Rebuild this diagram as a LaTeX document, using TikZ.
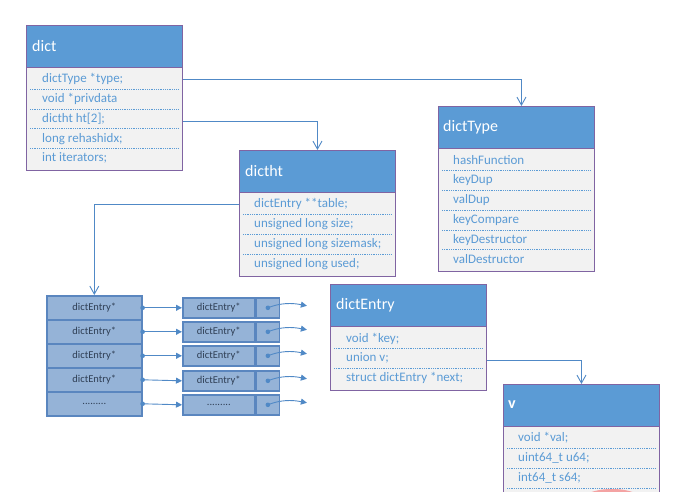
\documentclass[tikz,border=0pt]{standalone}
\usepackage{fontspec}
\setmainfont{Carlito}
\usetikzlibrary{arrows.meta,shapes.geometric}
\definecolor{hdr}{HTML}{5B9BD5}
\definecolor{brd}{HTML}{8064A2}
\definecolor{bodyfill}{HTML}{F2F2F2}
\definecolor{fieldtxt}{HTML}{5B9BD5}
\definecolor{connc}{HTML}{5089C6}
\definecolor{cellfill}{HTML}{95B3D7}
\definecolor{cellbrd}{HTML}{5A86BF}
\definecolor{celltxt}{HTML}{2F3F55}
\definecolor{pinkc}{HTML}{F4A3A3}
\newcommand\mydotrow{.........}
\begin{document}
\begin{tikzpicture}[x=1pt,y=-1pt,
  structbody/.style={draw=brd, line width=0.9pt, fill=bodyfill, anchor=north west, inner sep=0pt, minimum width=156},
  hdrbox/.style={draw=brd, line width=0.9pt, fill=hdr, anchor=north west, inner sep=0pt, minimum width=156, minimum height=42},
  title/.style={anchor=west, text=white, font=\fontsize{16}{18}\selectfont, inner sep=0pt},
  field/.style={anchor=west, text=fieldtxt, font=\fontsize{13}{15}\selectfont, inner sep=0pt},
  sepline/.style={draw=fieldtxt, dash pattern=on 0.9pt off 0.9pt, line width=0.7pt},
  conn/.style={draw=connc, line width=0.9pt, -{Straight Barb[length=8pt,width=9pt]}},
  ptr/.style={draw=connc, line width=0.9pt, -{Triangle[length=6pt,width=6pt]}},
  cell/.style={draw=cellbrd, line width=1.6pt, fill=cellfill, anchor=north west, inner sep=0pt, text=celltxt, font=\fontsize{10.5}{12}\selectfont},
  ]
\useasboundingbox (0,0) rectangle (685,492);
\begin{scope}
\clip (0,0) rectangle (685,492);

% ---------- dict ----------
\node[structbody, minimum height=145] (dict) at (26,25) {};
\node[hdrbox] (dicth) at (26,25) {};
\node[title] (dictt) at (32,46) {dict};
\node[field] (dict1) at (42,79) {dictType *type;};
\node[field] (dict2) at (42,99) {void *privdata};
\node[field] (dict3) at (42,119) {dictht ht[2];};
\node[field] (dict4) at (42,139) {long rehashidx;};
\node[field] (dict5) at (42,158) {int iterators;};
\foreach \y in {89,109,128,148} \draw[sepline] (30,\y) -- (178,\y);

% ---------- dictType ----------
\node[structbody, minimum height=165] (dictType) at (438,106) {};
\node[hdrbox] (dictTypeh) at (438,106) {};
\node[title] (dictTypet) at (443,127) {dictType};
\node[field] (dt1) at (453,160) {hashFunction};
\node[field] (dt2) at (453,180) {keyDup};
\node[field] (dt3) at (453,200) {valDup};
\node[field] (dt4) at (453,220) {keyCompare};
\node[field] (dt5) at (453,240) {keyDestructor};
\node[field] (dt6) at (453,259) {valDestructor};
\foreach \y in {170,190,210,230,249} \draw[sepline] (442,\y) -- (590,\y);

% ---------- dictht ----------
\node[structbody, minimum height=126] (dictht) at (239,150) {};
\node[hdrbox] (dicthth) at (239,150) {};
\node[title] (dicthtt) at (245,171) {dictht};
\node[field] (ht1) at (254,204) {dictEntry **table;};
\node[field] (ht2) at (254,224) {unsigned long size;};
\node[field] (ht3) at (254,244) {unsigned long sizemask;};
\node[field] (ht4) at (254,264) {unsigned long used;};
\foreach \y in {214,234,254} \draw[sepline] (243,\y) -- (392,\y);

% ---------- dictEntry ----------
\node[structbody, minimum height=106] (dictEntry) at (330,284) {};
\node[hdrbox] (dictEntryh) at (330,284) {};
\node[title] (dictEntryt) at (336,305) {dictEntry};
\node[field] (de1) at (346,339) {void *key;};
\node[field] (de2) at (346,358) {union v;};
\node[field] (de3) at (346,378) {struct dictEntry *next;};
\foreach \y in {348,368} \draw[sepline] (334,\y) -- (482,\y);

% ---------- v ----------
\node[structbody, minimum height=130] (v) at (503,384) {};
\node[hdrbox] (vh) at (503,384) {};
\node[title, font=\fontsize{16}{18}\selectfont\bfseries] (vt) at (508,405) {v};
\node[field] (v1) at (518,438) {void *val;};
\node[field] (v2) at (518,458) {uint64\_t u64;};
\node[field] (v3) at (518,478) {int64\_t s64;};
\foreach \y in {448,468,488} \draw[sepline] (507,\y) -- (655,\y);
\node[fill=pinkc, ellipse, minimum width=60, minimum height=22, inner sep=0pt] (mark) at (612,500) {};

% ---------- bucket array ----------
\node[cell, minimum width=95, minimum height=24] (a1) at (46,295) {dictEntry*};
\node[cell, minimum width=95, minimum height=24] (a2) at (46,319) {dictEntry*};
\node[cell, minimum width=95, minimum height=24] (a3) at (46,343) {dictEntry*};
\node[cell, minimum width=95, minimum height=24] (a4) at (46,367) {dictEntry*};
\node[cell, minimum width=95, minimum height=24] (a5) at (46,391) {\mydotrow};

% ---------- entry chain boxes ----------
\foreach \i/\y/\t in {1/297/dictEntry*,2/321/dictEntry*,3/345/dictEntry*,4/370/dictEntry*,5/394/\mydotrow}{
  \node[cell, minimum width=72, minimum height=20] (e\i) at (182,\y) {\t};
  \node[cell, minimum width=23, minimum height=20, anchor=west] (p\i) at (e\i.east) {};
  \fill[connc] (a\i.east) circle (2.3);
  \draw[ptr] (a\i.east) -- (e\i.west);
  \fill[connc] (p\i.center) circle (2.3);
  \coordinate (t\i) at ([shift={(39,-2)}]p\i.center);
  \draw[ptr] (p\i.center) .. controls ([shift={(12,-5)}]p\i.center) and ([shift={(24,-5)}]p\i.center) .. (t\i);
}

% ---------- connectors ----------
\draw[conn] (dict1 -| dict.east) -| ([xshift=5pt]dictType.north);
\draw[conn] ([yshift=-2pt]dict3 -| dict.east) -| (dictht.north);
\draw[conn] (ht1 -| dictht.west) -| (a1.north);
\draw[conn] ([yshift=-2pt]de2 -| dictEntry.east) -| (v.north);
\end{scope}
\end{tikzpicture}
\end{document}
